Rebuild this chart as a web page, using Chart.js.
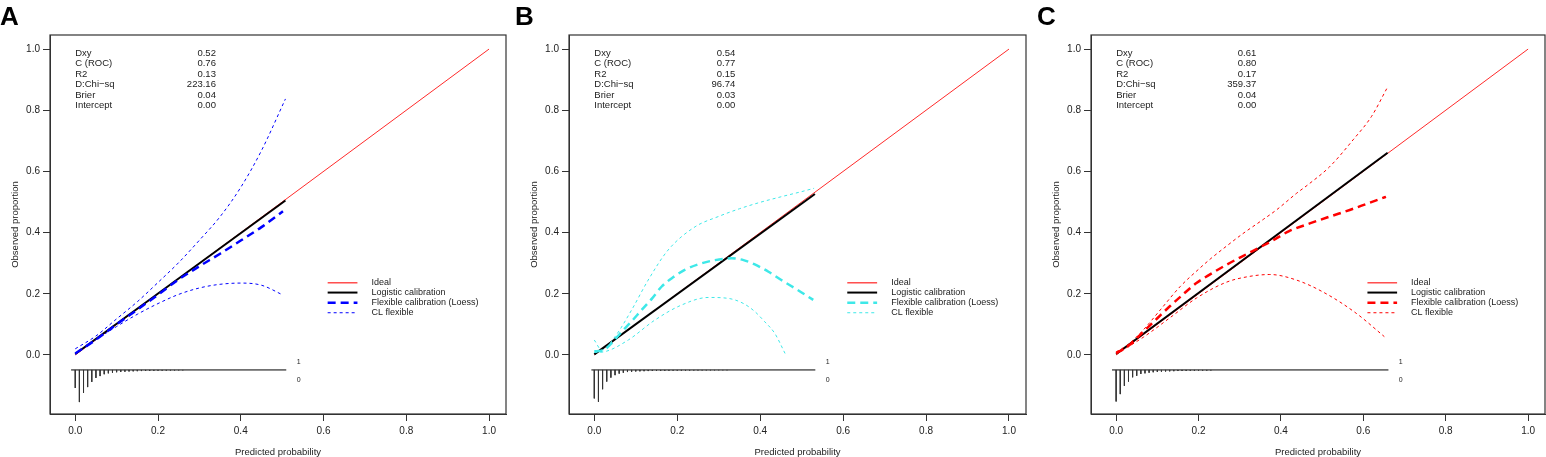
<!DOCTYPE html>
<html>
<head>
<meta charset="utf-8">
<script src="https://cdn.jsdelivr.net/npm/chart.js@4/dist/chart.umd.min.js"></script>
<style>
html, body { margin: 0; padding: 0; background: #fff; overflow: hidden; }
#wrap { position: relative; width: 1546px; height: 457px; }
canvas { position: absolute; top: 0; }
</style>
</head>
<body>
<div id="wrap">
  <canvas id="cA"></canvas>
  <canvas id="cB"></canvas>
  <canvas id="cC"></canvas>
</div>
<script>
// shared axis / label data
const xTicks = [0, 0.2, 0.4, 0.6, 0.8, 1.0];
const yTicks = [0, 0.2, 0.4, 0.6, 0.8, 1.0];
const statLabels = ['Dxy', 'C (ROC)', 'R2', 'D:Chi\u2212sq', 'Brier', 'Intercept'];
const legendLabels = ['Ideal', 'Logistic calibration', 'Flexible calibration (Loess)', 'CL flexible'];
const idealX = [0, 1];
const idealY = [0, 1];

/* panel A */
const statsA = [0.52, 0.76, 0.13, 223.16, 0.04, 0.00];
const rangeA = [-0.01, 0.51];
const logisticXA = [0, 0.508];
const logisticYA = [0.003, 0.505];
const loessXA = [0, 0.05, 0.1, 0.15, 0.2, 0.25, 0.3, 0.35, 0.4, 0.45, 0.502];
const loessYA = [0.005, 0.05, 0.1, 0.148, 0.197, 0.247, 0.29, 0.331, 0.374, 0.418, 0.47];
const upperXA = [0, 0.05, 0.1, 0.15, 0.2, 0.25, 0.3, 0.35, 0.4, 0.45, 0.508];
const upperYA = [0.02, 0.062, 0.118, 0.174, 0.237, 0.302, 0.375, 0.452, 0.548, 0.668, 0.837];
const lowerXA = [0, 0.05, 0.1, 0.15, 0.2, 0.25, 0.3, 0.35, 0.4, 0.45, 0.502];
const lowerYA = [0.002, 0.05, 0.093, 0.133, 0.168, 0.198, 0.219, 0.231, 0.235, 0.228, 0.196];
const spikeXA = [0, 0.01, 0.02, 0.03, 0.04, 0.05, 0.06, 0.07, 0.08, 0.09, 0.1, 0.11, 0.12, 0.13,
                 0.14, 0.15, 0.16, 0.17, 0.18, 0.19, 0.2, 0.21, 0.22, 0.23, 0.24, 0.25, 0.26];
const spikeDA = [0.059, 0.105, 0.075, 0.056, 0.039, 0.026, 0.020, 0.014, 0.011, 0.009, 0.0075, 0.0065, 0.0058, 0.005,
                 0.0045, 0.004, 0.0036, 0.0033, 0.003, 0.0027, 0.0024, 0.0021, 0.0019, 0.0017, 0.0015, 0.0013, 0.0011];

/* panel B */
const statsB = [0.54, 0.77, 0.15, 96.74, 0.03, 0.00];
const rangeB = [-0.007, 0.533];
const logisticXB = [0, 0.532];
const logisticYB = [0.002, 0.526];
const loessXB = [0, 0.02, 0.04, 0.066, 0.09, 0.114, 0.14, 0.162, 0.19, 0.218, 0.25, 0.291, 0.331, 0.36, 0.387, 0.42, 0.451, 0.49, 0.528];
const loessYB = [0.012, 0.014, 0.036, 0.076, 0.11, 0.147, 0.186, 0.223, 0.254, 0.278, 0.296, 0.31, 0.316, 0.31, 0.296, 0.272, 0.245, 0.213, 0.18];
const upperXB = [0, 0.018, 0.05, 0.09, 0.13, 0.178, 0.243, 0.3, 0.35, 0.4, 0.45, 0.5, 0.53];
const upperYB = [0.049, 0.016, 0.06, 0.147, 0.245, 0.343, 0.419, 0.453, 0.478, 0.499, 0.517, 0.534, 0.545];
const lowerXB = [0, 0.026, 0.082, 0.146, 0.21, 0.275, 0.323, 0.36, 0.387, 0.41, 0.435, 0.46];
const lowerYB = [0.008, 0.011, 0.049, 0.114, 0.163, 0.188, 0.185, 0.168, 0.142, 0.11, 0.071, 0.005];
const spikeXB = [0, 0.01, 0.02, 0.03, 0.04, 0.05, 0.06, 0.07, 0.08, 0.09, 0.1, 0.11, 0.12, 0.13, 0.14, 0.15, 0.16,
                 0.17, 0.18, 0.19, 0.2, 0.21, 0.22, 0.23, 0.24, 0.25, 0.26, 0.27, 0.28, 0.29, 0.3, 0.31, 0.32];
const spikeDB = [0.093, 0.104, 0.063, 0.038, 0.025, 0.017, 0.012, 0.009, 0.0068, 0.0058, 0.005, 0.0045, 0.004, 0.0036, 0.0033, 0.003, 0.0028,
                 0.0026, 0.0024, 0.0022, 0.002, 0.0019, 0.0018, 0.0017, 0.0016, 0.0015, 0.0014, 0.0013, 0.0012, 0.0011, 0.001, 0.001, 0.001];

/* panel C */
const statsC = [0.61, 0.80, 0.17, 359.37, 0.04, 0.00];
const rangeC = [-0.01, 0.661];
const logisticXC = [0, 0.659];
const logisticYC = [0.003, 0.661];
const loessXC = [0, 0.03, 0.066, 0.1, 0.131, 0.16, 0.195, 0.23, 0.268, 0.31, 0.349, 0.381, 0.42, 0.47, 0.52, 0.567, 0.61, 0.655];
const loessYC = [0.006, 0.03, 0.076, 0.12, 0.16, 0.195, 0.235, 0.265, 0.295, 0.325, 0.352, 0.375, 0.405, 0.43, 0.453, 0.474, 0.495, 0.517];
const upperXC = [0, 0.03, 0.066, 0.107, 0.155, 0.2, 0.228, 0.27, 0.308, 0.357, 0.389, 0.4375, 0.47, 0.518, 0.575, 0.62, 0.657];
const upperYC = [0.01, 0.035, 0.082, 0.147, 0.223, 0.28, 0.313, 0.358, 0.397, 0.443, 0.474, 0.528, 0.561, 0.615, 0.703, 0.78, 0.871];
const lowerXC = [0, 0.066, 0.131, 0.195, 0.268, 0.32, 0.373, 0.4375, 0.51, 0.583, 0.651];
const lowerYC = [0.003, 0.058, 0.122, 0.186, 0.238, 0.256, 0.263, 0.245, 0.2, 0.136, 0.06];
const spikeXC = [0, 0.01, 0.02, 0.03, 0.04, 0.05, 0.06, 0.07, 0.08, 0.09, 0.1, 0.11,
                 0.12, 0.13, 0.14, 0.15, 0.16, 0.17, 0.18, 0.19, 0.2, 0.21, 0.22, 0.23];
const spikeDC = [0.103, 0.079, 0.052, 0.038, 0.024, 0.019, 0.013, 0.011, 0.009, 0.0075, 0.0065, 0.0055,
                 0.005, 0.0045, 0.004, 0.0035, 0.003, 0.003, 0.0025, 0.0025, 0.002, 0.002, 0.002, 0.0015];

const FONT = '"Liberation Sans", Arial, Helvetica, sans-serif';
const spikeBase = -0.049;

function pts(xs, ys) {
    return xs.map((v, i) => ({x: v, y: ys[i]}));
}

// vertical spikes below the histogram baseline, separated by gaps
function spikePts(xs, ds) {
    const out = [];
    xs.forEach((v, i) => {
        out.push({x: v, y: spikeBase}, {x: v, y: spikeBase - ds[i]}, {x: v, y: null});
    });
    return out;
}

// frame, panel letter, stats block, legend and titles
const decor = {
    id: 'decor',
    afterDraw(chart, args, o) {
        const {ctx, chartArea: a, scales: {x, y}} = chart;
        ctx.save();
        ctx.strokeStyle = '#333';
        ctx.lineWidth = 1.2;
        ctx.strokeRect(a.left, a.top, a.right - a.left, a.bottom - a.top);

        ctx.fillStyle = '#000';
        ctx.font = 'bold 26px ' + FONT;
        ctx.textAlign = 'left';
        ctx.textBaseline = 'alphabetic';
        ctx.fillText(o.letter, o.letterX, 25);

        ctx.font = '9.5px ' + FONT;
        ctx.fillStyle = '#222';
        ctx.textBaseline = 'middle';
        statLabels.forEach((s, i) => {
            const py = y.getPixelForValue(0.986 - i * 0.0343);
            ctx.textAlign = 'left';
            ctx.fillText(s, x.getPixelForValue(0), py);
            ctx.textAlign = 'right';
            ctx.fillText(o.stats[i].toFixed(2), x.getPixelForValue(0.34), py);
        });

        const styles = [
            {c: '#ff5050', w: 1.5, d: []},
            {c: '#000', w: 2, d: []},
            {c: o.color, w: 2.5, d: [8, 5]},
            {c: o.color, w: 1, d: [3, 3]}
        ];
        const rows = [0.236, 0.204, 0.171, 0.138];
        ctx.font = '9px ' + FONT;
        legendLabels.forEach((s, i) => {
            const py = y.getPixelForValue(rows[i]);
            ctx.beginPath();
            ctx.strokeStyle = styles[i].c;
            ctx.lineWidth = styles[i].w;
            ctx.setLineDash(styles[i].d);
            ctx.moveTo(x.getPixelForValue(0.61), py);
            ctx.lineTo(x.getPixelForValue(0.682), py);
            ctx.stroke();
            ctx.setLineDash([]);
            ctx.textAlign = 'left';
            ctx.fillStyle = '#222';
            ctx.fillText(s, x.getPixelForValue(0.716), py);
        });

        ctx.font = '7px ' + FONT;
        ctx.textAlign = 'center';
        const lx = x.getPixelForValue(o.range[1] + 0.03);
        ctx.fillText('1', lx, y.getPixelForValue(-0.023));
        ctx.fillText('0', lx, y.getPixelForValue(-0.082));

        ctx.font = '9.5px ' + FONT;
        ctx.fillText('Predicted probability', (a.left + a.right) / 2, 452);
        ctx.translate(a.left - 35, (a.top + a.bottom) / 2);
        ctx.rotate(-Math.PI / 2);
        ctx.fillText('Observed proportion', 0, 0);
        ctx.restore();
    }
};

function axis(ticks, min, max, fitKey, fitVal) {
    return {
        type: 'linear',
        min: min,
        max: max,
        afterBuildTicks: s => { s.ticks = ticks.map(v => ({value: v})); },
        afterFit: s => { s[fitKey] = fitVal; },
        ticks: {
            callback: v => Number(v).toFixed(1),
            font: {size: 10, family: FONT},
            color: '#222',
            padding: fitKey === 'width' ? 3 : 4,
            autoSkip: false,
            maxRotation: 0
        },
        grid: {display: true, drawOnChartArea: false, drawTicks: true, tickLength: 7, color: '#333', lineWidth: 1},
        border: {display: true, color: '#333', width: 1}
    };
}

function createCalibration(p) {
    const canvas = document.getElementById(p.id);
    const left = p.boxLeft - 56;
    const width = 56 + (p.boxRight - p.boxLeft) + p.padRight;
    canvas.width = width;
    canvas.height = 457;
    canvas.style.left = left + 'px';
    canvas.style.width = width + 'px';
    canvas.style.height = '457px';

    const line = (data, color, w, dash, order, smooth) => ({
        data: data,
        showLine: true,
        borderColor: color,
        backgroundColor: color,
        borderWidth: w,
        borderDash: dash,
        pointRadius: 0,
        fill: false,
        spanGaps: false,
        order: order,
        cubicInterpolationMode: smooth ? 'monotone' : 'default'
    });

    new Chart(canvas, {
        type: 'scatter',
        data: {
            datasets: [
                line(pts([p.range[0], p.range[1]], [spikeBase, spikeBase]), '#000', 1, [], 6, false),
                line(spikePts(p.spikeX, p.spikeD), '#333', 1, [], 5, false),
                line(pts(idealX, idealY), '#ff2a2a', 1, [], 4, false),
                line(pts(p.logX, p.logY), '#000', 2, [], 3, false),
                line(pts(p.loX, p.loY), p.color, 2.5, [8, 5], 2, true),
                line(pts(p.upX, p.upY), p.color, 1, [3, 3], 1, true),
                line(pts(p.lwX, p.lwY), p.color, 1, [3, 3], 1, true)
            ]
        },
        options: {
            responsive: false,
            animation: false,
            devicePixelRatio: 1,
            layout: {padding: {left: 0, right: p.padRight, top: 35, bottom: 0}},
            plugins: {
                legend: {display: false},
                tooltip: {enabled: false},
                decor: {letter: p.letter, letterX: p.letterX - left, stats: p.stats, color: p.color, range: p.range}
            },
            scales: {
                x: axis(xTicks, -0.061, 1.041, 'height', 43),
                y: axis(yTicks, -0.193, 1.046, 'width', 56)
            }
        },
        plugins: [decor]
    });
}

createCalibration({
    id: 'cA', letter: 'A', letterX: 0, boxLeft: 50, boxRight: 506, padRight: 9,
    color: '#0000ff', stats: statsA, range: rangeA,
    logX: logisticXA, logY: logisticYA, loX: loessXA, loY: loessYA,
    upX: upperXA, upY: upperYA, lwX: lowerXA, lwY: lowerYA, spikeX: spikeXA, spikeD: spikeDA
});
createCalibration({
    id: 'cB', letter: 'B', letterX: 515, boxLeft: 569, boxRight: 1026, padRight: 9,
    color: '#3ee8e8', stats: statsB, range: rangeB,
    logX: logisticXB, logY: logisticYB, loX: loessXB, loY: loessYB,
    upX: upperXB, upY: upperYB, lwX: lowerXB, lwY: lowerYB, spikeX: spikeXB, spikeD: spikeDB
});
createCalibration({
    id: 'cC', letter: 'C', letterX: 1037, boxLeft: 1091, boxRight: 1545, padRight: 1,
    color: '#ff0000', stats: statsC, range: rangeC,
    logX: logisticXC, logY: logisticYC, loX: loessXC, loY: loessYC,
    upX: upperXC, upY: upperYC, lwX: lowerXC, lwY: lowerYC, spikeX: spikeXC, spikeD: spikeDC
});
</script>
</body>
</html>
